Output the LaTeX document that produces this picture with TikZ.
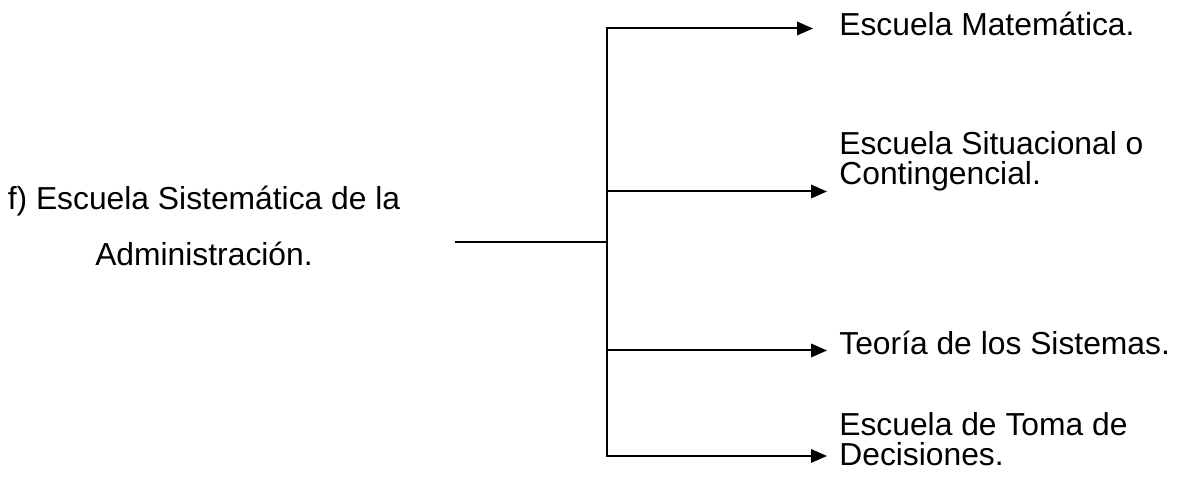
\documentclass[tikz,border=0pt]{standalone}
\usepackage{fontspec}
\setmainfont{Liberation Sans}
\usepackage{tikz}
\usetikzlibrary{positioning,arrows.meta}

\begin{document}
\begin{tikzpicture}[
  item/.style={anchor=base west,inner sep=0pt,align=left,font=\fontsize{18.1}{17.1}\selectfont},
  line/.style={line width=0.04cm},
  arr/.style={line,-{Triangle[length=0.32cm,width=0.27cm]}},
  ]
\useasboundingbox (0,0) rectangle (23.6,9.74);
\node[anchor=base,inner sep=0pt,align=center,font=\fontsize{18.1}{31.9}\selectfont] (root) at (4.08,4.42) {f) Escuela Sistemática de la\\Administración.};
\node[item] (mat) at (16.78,9.03) {Escuela Matemática.};
\node[item] (sit) at (16.78,6.04) {Escuela Situacional o\\Contingencial.};
\node[item] (teo) at (16.78,2.64) {Teoría de los Sistemas.};
\node[item] (toma) at (16.78,0.43) {Escuela de Toma de\\Decisiones.};
%
\coordinate (start) at (9.10,4.89);
\coordinate (hub) at (12.13,4.89);
\coordinate (b1) at (12.13,9.17);
\coordinate (b2) at (12.13,5.91);
\coordinate (b3) at (12.13,2.73);
\coordinate (b4) at (12.13,0.62);
%
\draw[line] (start) -- (hub);
\draw[line,line cap=rect] (b1) -- (b4);
\draw[arr,shorten >=0.52cm] (b1) -- (b1 -| mat.west);
\draw[arr,shorten >=0.24cm] (b2) -- (b2 -| sit.west);
\draw[arr,shorten >=0.24cm] (b3) -- (b3 -| teo.west);
\draw[arr,shorten >=0.24cm] (b4) -- (b4 -| toma.west);
\end{tikzpicture}
\end{document}
